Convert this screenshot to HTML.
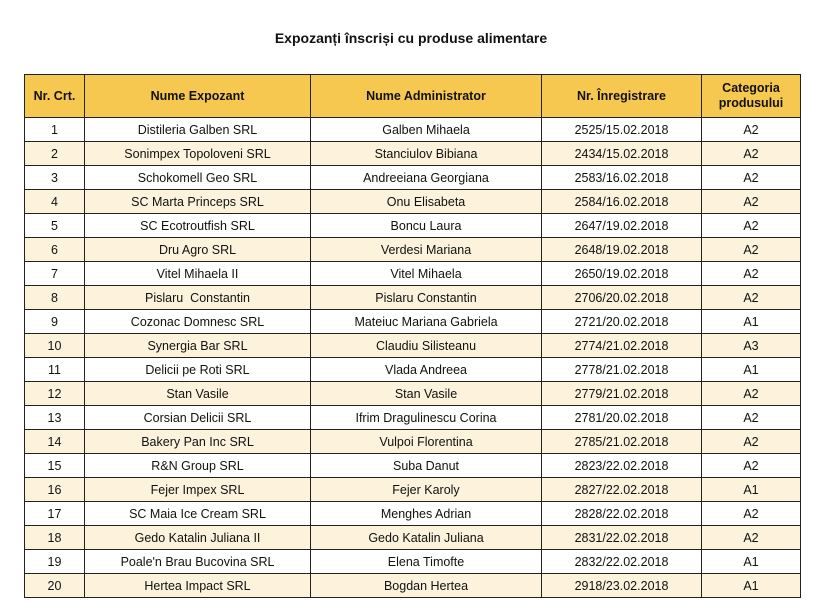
<!DOCTYPE html>
<html><head><meta charset="utf-8"><style>
body{margin:0;width:838px;height:606px;background:#fff;font-family:"Liberation Sans",sans-serif;position:relative;overflow:hidden}
.t{position:absolute;left:0;width:822px;top:30px;text-align:center;font-weight:bold;font-size:14px;color:#111}
table{position:absolute;left:24px;top:74px;border-collapse:collapse;table-layout:fixed;width:776px}
td,th{border:1px solid #222;text-align:center;font-size:12.5px;color:#111;padding:0;height:23px;white-space:nowrap;overflow:hidden}
th{background:#f6c850;height:42px;font-size:12.5px;line-height:15px}
tr:nth-child(odd) td{background:#fdf3dc}
</style></head><body>
<div class="t">Expozanți înscriși cu produse alimentare</div>
<table>
<colgroup><col style="width:60px"><col style="width:226px"><col style="width:231px"><col style="width:160px"><col style="width:99px"></colgroup>
<tr><th>Nr. Crt.</th><th>Nume Expozant</th><th>Nume Administrator</th><th>Nr. Înregistrare</th><th>Categoria<br>produsului</th></tr>
<tr><td>1</td><td>Distileria Galben SRL</td><td>Galben Mihaela</td><td>2525/15.02.2018</td><td>A2</td></tr>
<tr><td>2</td><td>Sonimpex Topoloveni SRL</td><td>Stanciulov Bibiana</td><td>2434/15.02.2018</td><td>A2</td></tr>
<tr><td>3</td><td>Schokomell Geo SRL</td><td>Andreeiana Georgiana</td><td>2583/16.02.2018</td><td>A2</td></tr>
<tr><td>4</td><td>SC Marta Princeps SRL</td><td>Onu Elisabeta</td><td>2584/16.02.2018</td><td>A2</td></tr>
<tr><td>5</td><td>SC Ecotroutfish SRL</td><td>Boncu Laura</td><td>2647/19.02.2018</td><td>A2</td></tr>
<tr><td>6</td><td>Dru Agro SRL</td><td>Verdesi Mariana</td><td>2648/19.02.2018</td><td>A2</td></tr>
<tr><td>7</td><td>Vitel Mihaela II</td><td>Vitel Mihaela</td><td>2650/19.02.2018</td><td>A2</td></tr>
<tr><td>8</td><td>Pislaru &nbsp;Constantin</td><td>Pislaru Constantin</td><td>2706/20.02.2018</td><td>A2</td></tr>
<tr><td>9</td><td>Cozonac Domnesc SRL</td><td>Mateiuc Mariana Gabriela</td><td>2721/20.02.2018</td><td>A1</td></tr>
<tr><td>10</td><td>Synergia Bar SRL</td><td>Claudiu Silisteanu</td><td>2774/21.02.2018</td><td>A3</td></tr>
<tr><td>11</td><td>Delicii pe Roti SRL</td><td>Vlada Andreea</td><td>2778/21.02.2018</td><td>A1</td></tr>
<tr><td>12</td><td>Stan Vasile</td><td>Stan Vasile</td><td>2779/21.02.2018</td><td>A2</td></tr>
<tr><td>13</td><td>Corsian Delicii SRL</td><td>Ifrim Dragulinescu Corina</td><td>2781/20.02.2018</td><td>A2</td></tr>
<tr><td>14</td><td>Bakery Pan Inc SRL</td><td>Vulpoi Florentina</td><td>2785/21.02.2018</td><td>A2</td></tr>
<tr><td>15</td><td>R&amp;N Group SRL</td><td>Suba Danut</td><td>2823/22.02.2018</td><td>A2</td></tr>
<tr><td>16</td><td>Fejer Impex SRL</td><td>Fejer Karoly</td><td>2827/22.02.2018</td><td>A1</td></tr>
<tr><td>17</td><td>SC Maia Ice Cream SRL</td><td>Menghes Adrian</td><td>2828/22.02.2018</td><td>A2</td></tr>
<tr><td>18</td><td>Gedo Katalin Juliana II</td><td>Gedo Katalin Juliana</td><td>2831/22.02.2018</td><td>A2</td></tr>
<tr><td>19</td><td>Poale'n Brau Bucovina SRL</td><td>Elena Timofte</td><td>2832/22.02.2018</td><td>A1</td></tr>
<tr><td>20</td><td>Hertea Impact SRL</td><td>Bogdan Hertea</td><td>2918/23.02.2018</td><td>A1</td></tr>
</table>
</body></html>
